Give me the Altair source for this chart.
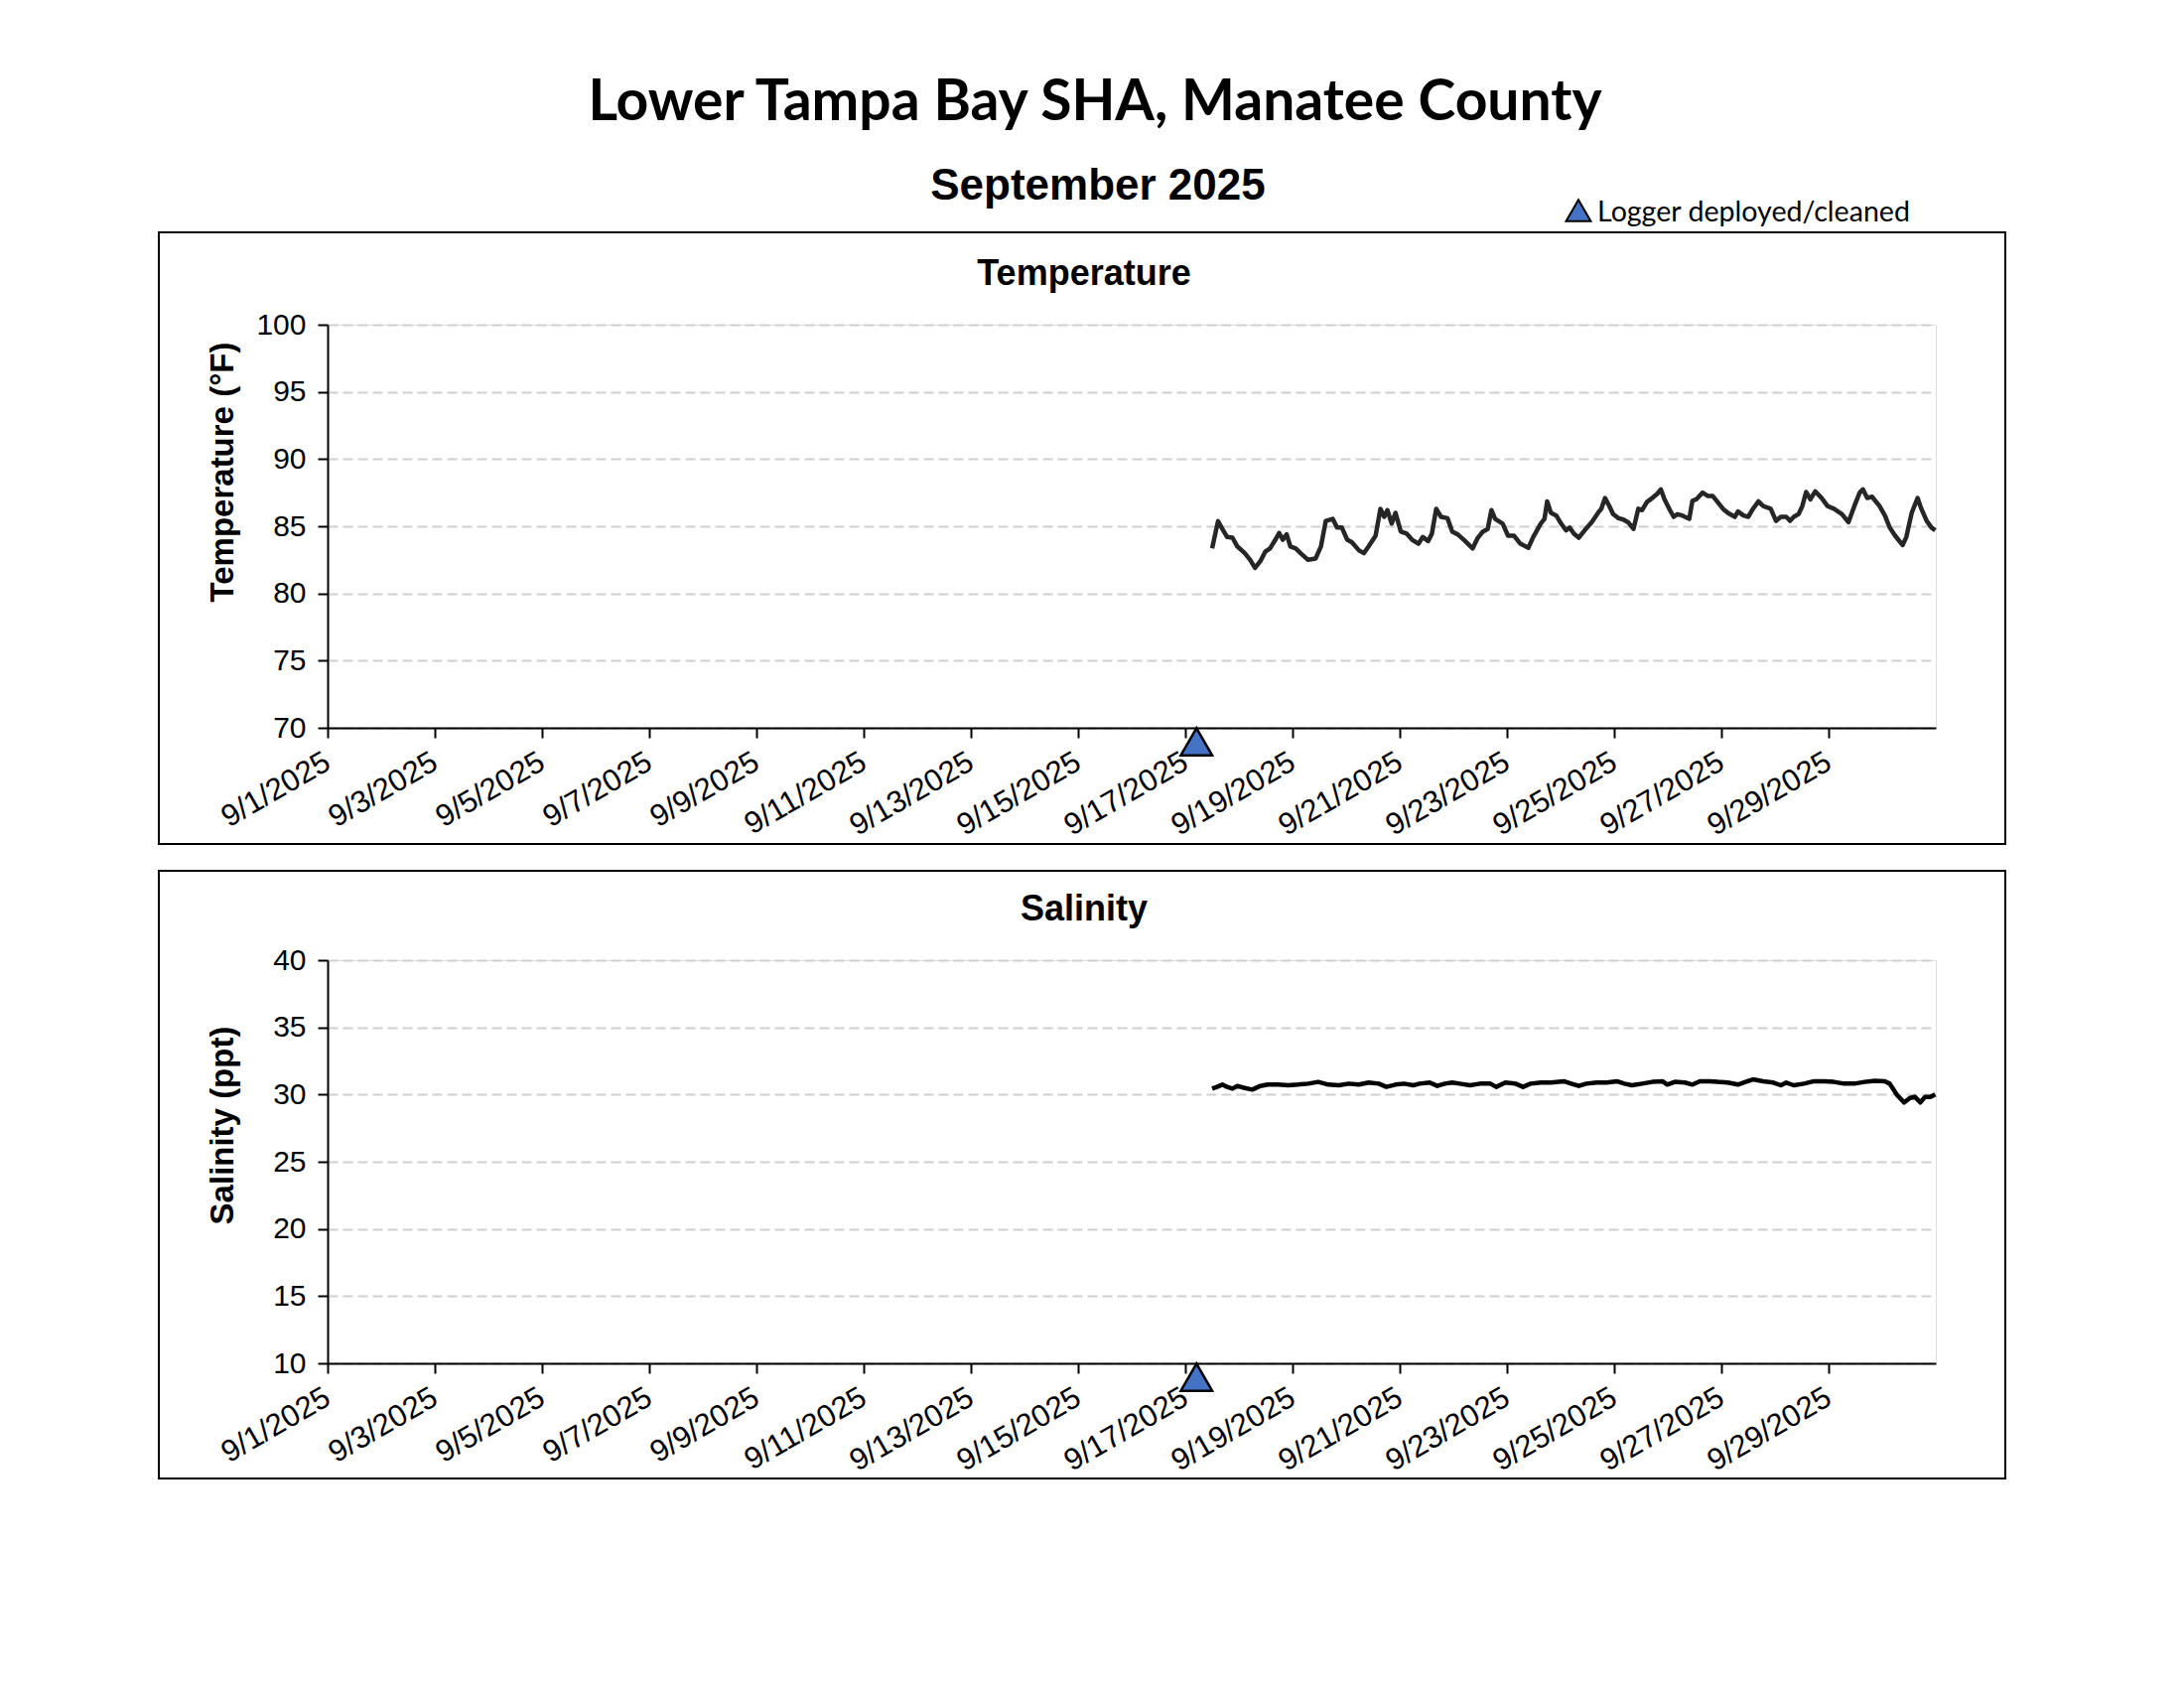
import altair as alt
import pandas as pd

# ---------------- data ----------------
temp_days = [0.50,0.61,0.69,0.78,0.88,0.97,1.11,1.21,1.30,1.40,
             1.49,1.58,1.68,1.75,1.82,1.89,1.96,2.06,2.15,2.29,
             2.43,2.53,2.62,2.75,2.83,2.92,3.02,3.11,3.24,3.33,
             3.42,3.55,3.64,3.71,3.77,3.85,3.92,4.02,4.13,4.23,
             4.35,4.43,4.53,4.60,4.68,4.77,4.89,4.98,5.08,5.22,
             5.36,5.45,5.55,5.64,5.71,5.78,5.92,6.02,6.13,6.25,
             6.40,6.49,6.63,6.70,6.75,6.82,6.92,7.01,7.10,7.17,
             7.25,7.34,7.45,7.58,7.70,7.76,7.83,7.91,7.98,8.08,
             8.17,8.26,8.36,8.45,8.52,8.61,8.71,8.80,8.87,8.94,
             9.04,9.11,9.18,9.27,9.40,9.46,9.53,9.65,9.75,9.84,
             9.93,10.03,10.12,10.25,10.31,10.41,10.50,10.59,10.69,10.78,
             10.92,11.02,11.11,11.21,11.28,11.35,11.44,11.51,11.58,11.66,
             11.75,11.87,11.98,12.10,12.25,12.37,12.48,12.58,12.64,12.72,
             12.81,12.95,13.05,13.14,13.24,13.38,13.45,13.55,13.66,13.73,
             13.83,13.92,13.99]
temp_values = [83.35,85.38,84.8,84.2,84.15,83.5,83.0,82.5,81.9,82.4,
               83.1,83.35,84.0,84.5,84.0,84.4,83.5,83.35,83.0,82.5,
               82.6,83.5,85.4,85.55,84.9,84.9,84.0,83.8,83.2,83.0,
               83.5,84.3,86.3,85.7,86.2,85.2,86.0,84.6,84.45,84.0,
               83.7,84.2,83.9,84.45,86.3,85.7,85.6,84.6,84.4,83.9,
               83.35,84.1,84.6,84.8,86.2,85.55,85.2,84.3,84.3,83.7,
               83.4,84.2,85.2,85.55,86.85,86.0,85.8,85.2,84.7,84.9,
               84.45,84.15,84.7,85.3,86.0,86.3,87.1,86.5,85.9,85.6,
               85.5,85.3,84.8,86.3,86.2,86.8,87.1,87.4,87.75,87.0,
               86.2,85.7,85.9,85.8,85.55,86.9,87.0,87.5,87.25,87.25,
               86.8,86.3,86.0,85.7,86.1,85.8,85.7,86.3,86.85,86.5,
               86.3,85.4,85.7,85.7,85.4,85.7,85.9,86.5,87.55,87.0,
               87.6,87.1,86.5,86.3,85.9,85.3,86.5,87.5,87.75,87.1,
               87.2,86.5,85.8,84.9,84.3,83.6,84.2,86.0,87.1,86.3,
               85.4,84.9,84.7]

sal_days = [0.50,0.59,0.69,0.78,0.88,0.97,1.11,1.25,1.40,1.54,
            1.73,1.92,2.10,2.29,2.48,2.67,2.86,3.05,3.24,3.42,
            3.61,3.75,3.92,4.08,4.25,4.37,4.56,4.70,4.84,4.98,
            5.12,5.31,5.50,5.69,5.80,5.97,6.16,6.30,6.44,6.63,
            6.82,7.06,7.20,7.34,7.48,7.67,7.86,8.05,8.19,8.33,
            8.52,8.71,8.90,8.99,9.13,9.32,9.46,9.60,9.79,9.93,
            10.12,10.31,10.45,10.59,10.78,10.97,11.11,11.21,11.35,11.54,
            11.73,11.92,12.10,12.29,12.48,12.67,12.86,13.05,13.14,13.28,
            13.41,13.52,13.61,13.71,13.80,13.90,13.99]
sal_values = [30.44,30.57,30.74,30.57,30.44,30.64,30.49,30.37,30.64,30.74,
              30.74,30.69,30.74,30.81,30.94,30.74,30.69,30.81,30.74,30.89,
              30.81,30.57,30.74,30.81,30.69,30.81,30.89,30.64,30.81,30.89,
              30.81,30.69,30.81,30.81,30.57,30.89,30.81,30.57,30.81,30.89,
              30.89,30.99,30.81,30.64,30.81,30.89,30.89,30.99,30.81,30.69,
              30.81,30.94,30.99,30.74,30.94,30.89,30.74,30.99,30.99,30.94,
              30.89,30.74,30.94,31.13,30.99,30.89,30.69,30.89,30.69,30.81,
              30.99,30.99,30.94,30.81,30.81,30.94,31.03,30.99,30.81,29.95,
              29.41,29.75,29.83,29.41,29.83,29.83,30.00]

logger_time = ["2025-09-17T05:00:00"]
temp_ticks = [70, 75, 80, 85, 90, 95, 100]
sal_ticks = [10, 15, 20, 25, 30, 35, 40]
date_tick_days = list(range(1, 30, 2))

main_title = "Lower Tampa Bay SHA, Manatee County"
sub_title = "September 2025"
legend_text = "Logger deployed/cleaned"

# ---------------- tables ----------------
base = pd.Timestamp("2025-09-17")
def stamps(days):
    return [(base + pd.Timedelta(days=d)).strftime("%Y-%m-%dT%H:%M:%S") for d in days]

temp_df = pd.DataFrame({"t": stamps(temp_days), "v": temp_values})
sal_df = pd.DataFrame({"t": stamps(sal_days), "v": sal_values})

W, H = 1620, 406
ARIAL = "Liberation Sans"

x_scale = alt.Scale(domain=[alt.DateTime(year=2025, month=9, date=1),
                            alt.DateTime(year=2025, month=10, date=1)], nice=False)

def x_axis():
    return alt.Axis(values=[alt.DateTime(year=2025, month=9, date=d) for d in date_tick_days],
                    format="%-m/%-d/%Y", labelAngle=-30, labelAlign="right",
                    labelBaseline="middle", labelFont=ARIAL, labelFontSize=31,
                    labelColor="black", labelPadding=22, labelFlush=False,
                    labelOverlap=False, tickSize=10, tickColor="black", tickWidth=2,
                    domainColor="black", domainWidth=2, grid=False, title=None)

def y_axis(ticks, title, title_y):
    return alt.Axis(values=ticks, labelFont=ARIAL, labelFontSize=30, labelColor="black",
                    labelPadding=12, tickSize=10, tickColor="black", tickWidth=2,
                    domainColor="black", domainWidth=2, grid=True, gridColor="#d0d0d0",
                    gridDash=[10, 5], gridWidth=2, title=title, titleFont=ARIAL,
                    titleFontSize=33, titleFontWeight="bold", titleColor="black",
                    titleX=-106, titleY=title_y, titleAlign="center",
                    titleBaseline="middle")

def text_layer(txt, x, y, size, font, weight="normal", align="center"):
    return alt.Chart(pd.DataFrame({"s": [txt]})).mark_text(
        fontSize=size, font=font, fontWeight=weight, align=align,
        baseline="middle", color="black").encode(
        x=alt.value(x), y=alt.value(y), text="s:N")

def frame_layer(top, bottom):
    return alt.Chart(pd.DataFrame({"k": [0]})).mark_rect(
        fillOpacity=0, stroke="black", strokeWidth=2).encode(
        x=alt.value(-170), x2=alt.value(1690), y=alt.value(top), y2=alt.value(bottom))

def panel(df, lo, hi, ticks, ytitle, title_y, ptitle, color, ftop, fbot):
    line = alt.Chart(df).mark_line(color=color, strokeWidth=4.5, strokeJoin="round").encode(
        x=alt.X("t:T", scale=x_scale, axis=x_axis()),
        y=alt.Y("v:Q", scale=alt.Scale(domain=[lo, hi], nice=False, zero=False),
                axis=y_axis(ticks, ytitle, title_y)))
    tri = alt.Chart(pd.DataFrame({"t": logger_time, "v": [lo]})).mark_point(
        shape="triangle-up", filled=True, fill="#4472C4", stroke="black",
        strokeWidth=2.5, size=1000, yOffset=14, opacity=1).encode(
        x=alt.X("t:T", scale=x_scale), y=alt.Y("v:Q"))
    return [frame_layer(ftop, fbot), line, tri,
            text_layer(ptitle, 762, -51, 36, ARIAL, "bold")]

p1 = panel(temp_df, 70, 100, temp_ticks, "Temperature (°F)", 148, "Temperature",
           "#262626", -93, 523)
legend_tri = alt.Chart(pd.DataFrame({"k": [0]})).mark_point(
    shape="triangle-up", filled=True, fill="#4472C4", stroke="black",
    strokeWidth=2, size=620, opacity=1).encode(x=alt.value(1260), y=alt.value(-115))
p1 += [text_layer(main_title, 773, -223, 57, "Lato", "bold"),
       text_layer(sub_title, 776, -139, 44, ARIAL, "bold"),
       legend_tri,
       text_layer(legend_text, 1279, -113, 28.6, "Lato", "normal", "left")]
top = alt.layer(*p1).properties(width=W, height=H)

p2 = panel(sal_df, 10, 40, sal_ticks, "Salinity (ppt)", 166, "Salinity", "black", -90, 522)
bottom = alt.layer(*p2).properties(width=W, height=H)

chart = alt.vconcat(top, bottom, spacing=234, bounds="flush").properties(
    padding={"left": 150, "top": 66, "right": 20, "bottom": 20}
).configure_view(strokeWidth=0).configure(background="white")

chart.save("out.html", embed_options={"renderer": "svg", "actions": False})
